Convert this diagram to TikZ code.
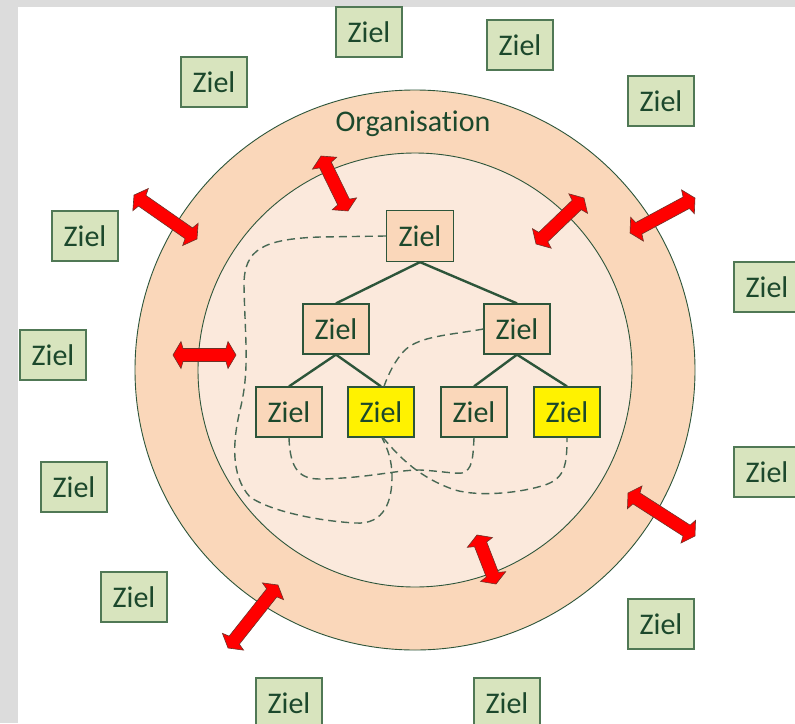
\documentclass[tikz,border=0pt]{standalone}
\usepackage{fontspec}
\setmainfont{Carlito}[Ligatures=NoCommon]
\definecolor{ring}{RGB}{250,215,186}
\definecolor{innerc}{RGB}{251,233,220}
\definecolor{dkgreen}{RGB}{45,85,58}
\definecolor{txtgreen}{RGB}{28,72,44}
\definecolor{boxgreen}{RGB}{216,228,190}
\definecolor{boxedge}{RGB}{80,120,85}
\definecolor{dashc}{RGB}{72,104,84}
\definecolor{greyb}{RGB}{220,220,220}
\definecolor{arrred}{RGB}{255,0,0}
\definecolor{arredge}{RGB}{110,50,40}
\tikzset{
  zbase/.style={minimum width=66pt, minimum height=50pt, inner sep=0pt, text=txtgreen,
    font=\fontsize{30}{36}\selectfont},
  outerz/.style={zbase, draw=boxedge, line width=1.2pt, fill=boxgreen},
  treez/.style={zbase, draw=dkgreen, line width=1.2pt, fill=ring},
  yelz/.style={treez, fill=yellow},
  treeline/.style={draw=dkgreen, line width=2.4pt},
  dashline/.style={draw=dashc, line width=1.4pt, dash pattern=on 8pt off 5pt},
  circedge/.style={draw=dkgreen, line width=0.9pt},
  pics/dblarr/.style={code={
    \draw[fill=arrred, draw=arredge, line width=0.6pt, line join=miter]
      (-#1,0) -- (-#1+8,13.5) -- (-#1+10,6.5) -- (#1-10,6.5) -- (#1-8,13.5) -- (#1,0)
      -- (#1-8,-13.5) -- (#1-10,-6.5) -- (-#1+10,-6.5) -- (-#1+8,-13.5) -- cycle;
  }}
}
\begin{document}
\begin{tikzpicture}[x=1pt, y=-1pt]
\useasboundingbox (0,0) rectangle (795,723);
\clip (0,0) rectangle (795,723);
\fill[white] (0,0) rectangle (795,723);
\fill[greyb] (0,0) rectangle (18,723);
\fill[greyb] (0,0) rectangle (795,7);

% circles
\filldraw[circedge, fill=ring] (415,370) circle[radius=280];
\filldraw[circedge, fill=innerc] (415,370) circle[radius=217];
\node[text=txtgreen, font=\fontsize{30}{36}\selectfont] (org) at (413,124) {Organisation};

% outer goals
\node[outerz] (g1) at (369,32) {Ziel};
\node[outerz] (g2) at (214,82) {Ziel};
\node[outerz] (g3) at (520,45) {Ziel};
\node[outerz] (g4) at (661,101) {Ziel};
\node[outerz] (g5) at (85,236) {Ziel};
\node[outerz] (g6) at (767,287) {Ziel};
\node[outerz] (g7) at (53,355) {Ziel};
\node[outerz] (g8) at (74,487) {Ziel};
\node[outerz] (g9) at (767,472) {Ziel};
\node[outerz] (g10) at (134,597) {Ziel};
\node[outerz] (g11) at (661,624) {Ziel};
\node[outerz] (g12) at (289,703) {Ziel};
\node[outerz] (g13) at (507,703) {Ziel};

% tree
\node[treez, minimum width=67pt, minimum height=51pt] (t) at (420,236) {Ziel};
\node[treez] (m1) at (336,329) {Ziel};
\node[treez] (m2) at (517,329) {Ziel};
\node[treez] (b1) at (289,412) {Ziel};
\node[yelz] (b2) at (381,412) {Ziel};
\node[treez] (b3) at (474,412) {Ziel};
\node[yelz] (b4) at (567,412) {Ziel};

\draw[treeline] (t.south) -- (m1.north);
\draw[treeline] (t.south) -- (m2.north);
\draw[treeline] (m1.south) -- (b1.north);
\draw[treeline] (m1.south) -- (b2.north);
\draw[treeline] (m2.south) -- (b3.north);
\draw[treeline] (m2.south) -- (b4.north);

% dashed paths
\draw[dashline] (t.west) -- (320,237) .. controls (262,239) and (244,250) .. (244,285)
  .. controls (245,340) and (250,370) .. (240,410)
  .. controls (233,440) and (230,475) .. (250,497)
  .. controls (272,512) and (320,521) .. (355,523)
  .. controls (385,525) and (392,500) .. (392,477)
  .. controls (392,460) and (388,450) .. ([xshift=1pt]b2.south);
\draw[dashline] (b1.south) .. controls (290,470) and (300,479) .. (320,479)
  .. controls (370,478) and (395,470) .. (420,470)
  .. controls (440,471) and (455,474) .. (462,473)
  .. controls (472,470) and (473,460) .. (b3.south);
\draw[dashline] ([xshift=2pt]b2.south) .. controls (400,458) and (420,478) .. (455,490)
  .. controls (480,497) and (520,493) .. (545,485)
  .. controls (565,478) and (567,465) .. (b4.south);
\draw[dashline] (m2.west) .. controls (450,335) and (420,336) .. (405,350)
  .. controls (395,360) and (388,375) .. ([xshift=3pt]b2.north);

% red double arrows
\pic[rotate=-34.9] at (165.5,217) {dblarr=38.4};
\pic[rotate=-63.9] at (334.5,183.5) {dblarr=30.6};
\pic[rotate=43.8] at (560,221) {dblarr=33.2};
\pic[rotate=28.3] at (662.5,215.5) {dblarr=36.9};
\pic[rotate=0] at (204.5,355) {dblarr=31.5};
\pic[rotate=-32.7] at (661.5,514.5) {dblarr=39.8};
\pic[rotate=-68.8] at (486.5,559.5) {dblarr=26.3};
\pic[rotate=51.6] at (253,616.5) {dblarr=40.2};
\end{tikzpicture}
\end{document}
